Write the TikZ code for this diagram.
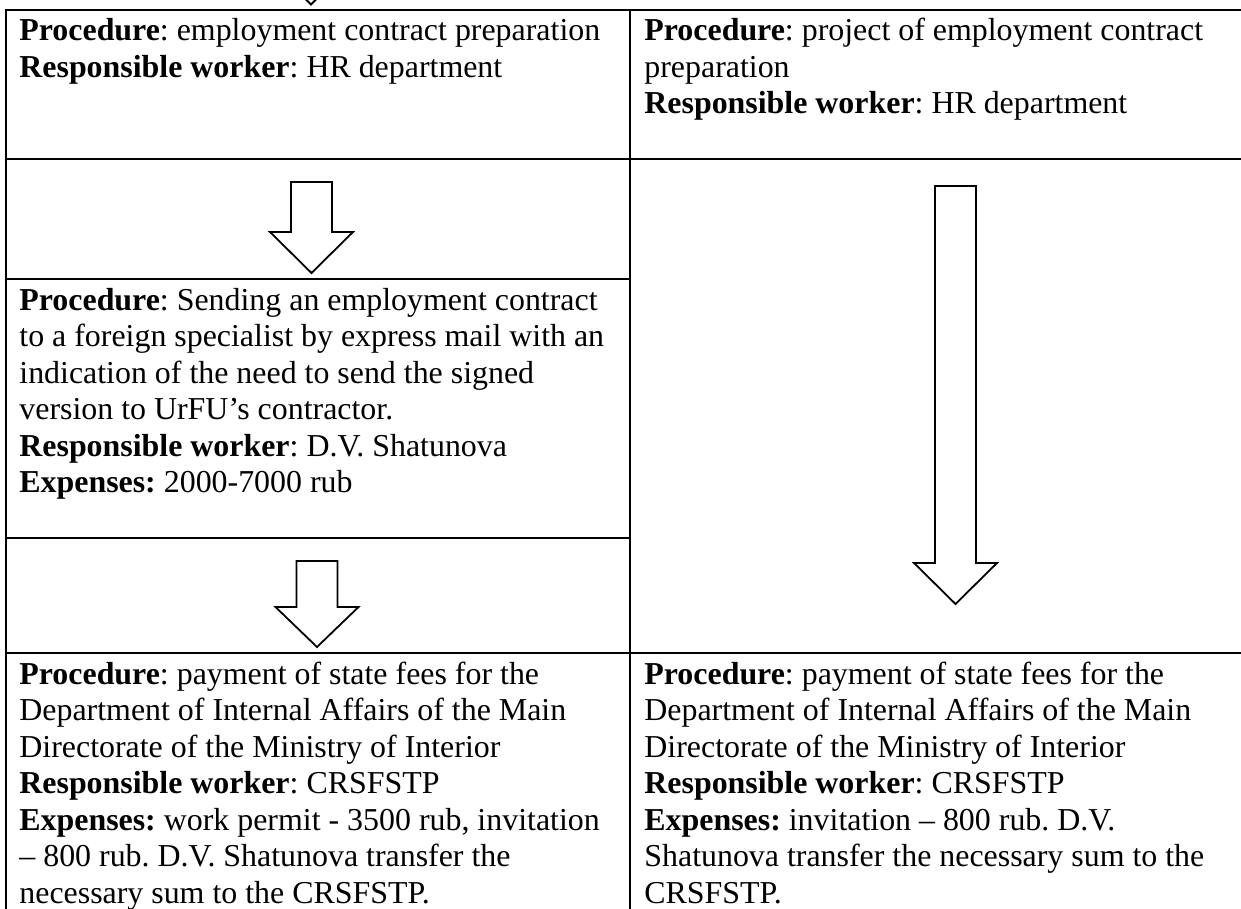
\documentclass[tikz,border=0pt]{standalone}
\usepackage{fontspec}
\setmainfont{Liberation Serif}
\frenchspacing
\newcommand\cellfont{\fontsize{15.95pt}{18.25pt}\selectfont\frenchspacing}
% block arrow: centre x, shaft top y, head top y, tip y
\newcommand\blockarr[4]{%
  \draw[barrow] (#1-20.5,#2) -- (#1+20.5,#2) -- (#1+20.5,#3) -- (#1+41.5,#3)
    -- (#1,#4) -- (#1-41.5,#3) -- (#1-20.5,#3) -- cycle;}
\begin{document}
\begin{tikzpicture}[x=0.5pt,y=-0.5pt,
  rule/.style={line width=1.1pt},
  barrow/.style={draw, line width=0.9pt, fill=white, line join=miter},
  cell/.style={anchor=base west, inner sep=0pt, font=\cellfont}]
\useasboundingbox (0,0) rectangle (1241,909);
\clip (0,0) rectangle (1241,909);
% table rules
\draw[rule] (6,10) -- (1260,10);
\draw[rule] (6,9.5) -- (6,930);
\draw[rule] (630,9.5) -- (630,930);
\draw[rule] (6,159) -- (1260,159);
\draw[rule] (6,279) -- (630,279);
\draw[rule] (6,538) -- (630,538);
\draw[rule] (6,653) -- (1260,653);
% arrows
\blockarr{311}{-90}{-37}{4.5}
\blockarr{311.5}{182}{232}{273}
\blockarr{317}{561}{607}{647}
\blockarr{955.5}{186}{563}{604}
% texts
\node[cell] (t1) at (19,41) {\parbox[t]{310pt}{\cellfont\raggedright
\textbf{Procedure}: employment contract preparation\\
\textbf{Responsible worker}: HR department}};
\node[cell] (t2) at (644,41) {\parbox[t]{310pt}{\cellfont\raggedright
\textbf{Procedure}: project of employment contract\\
preparation\\
\textbf{Responsible worker}: HR department}};
\node[cell] (t3) at (19,310) {\parbox[t]{310pt}{\cellfont\raggedright
\textbf{Procedure}: Sending an employment contract\\
to a foreign specialist by express mail with an\\
indication of the need to send the signed\\
version to UrFU’s contractor.\\
\textbf{Responsible worker}: D.V. Shatunova\\
\textbf{Expenses:} 2000-7000 rub}};
\node[cell] (t4) at (19,684) {\parbox[t]{310pt}{\cellfont\raggedright
\textbf{Procedure}: payment of state fees for the\\
Department of Internal Affairs of the Main\\
Directorate of the Ministry of Interior\\
\textbf{Responsible worker}: CRSFSTP\\
\textbf{Expenses:} work permit - 3500 rub, invitation\\
– 800 rub. D.V. Shatunova transfer the\\
necessary sum to the CRSFSTP.}};
\node[cell] (t5) at (644,684) {\parbox[t]{310pt}{\cellfont\raggedright
\textbf{Procedure}: payment of state fees for the\\
Department of Internal Affairs of the Main\\
Directorate of the Ministry of Interior\\
\textbf{Responsible worker}: CRSFSTP\\
\textbf{Expenses:} invitation – 800 rub. D.V.\\
Shatunova transfer the necessary sum to the\\
CRSFSTP.}};
\end{tikzpicture}
\end{document}
